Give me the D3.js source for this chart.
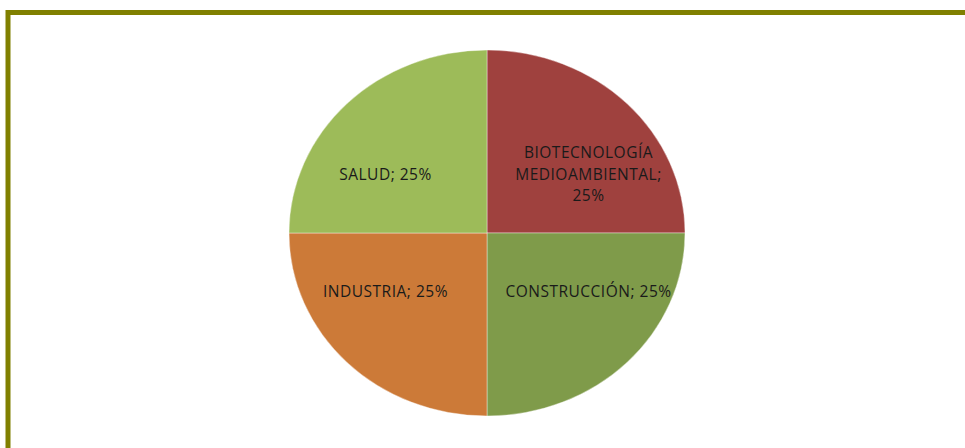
<!DOCTYPE html>
<html>
<head>
<meta charset="utf-8">
<script src="https://cdn.jsdelivr.net/npm/d3@7"></script>
<style>
  html, body { margin: 0; padding: 0; background: #fff; }
  svg { display: block; }
</style>
</head>
<body>
<svg id="chart" width="965" height="448"></svg>
<script>
const categories = ['BIOTECNOLOGÍA MEDIOAMBIENTAL', 'CONSTRUCCIÓN', 'INDUSTRIA', 'SALUD']
const values = [25, 25, 25, 25]
const colors = ['#9f413e', '#7f9b4a', '#cc7a38', '#9dbb59']
// label lines as they wrap in the original
const labelLines = [
  ['BIOTECNOLOGÍA', 'MEDIOAMBIENTAL;', '25%'],
  ['CONSTRUCCIÓN; 25%'],
  ['INDUSTRIA; 25%'],
  ['SALUD; 25%'],
]

const svg = d3.select('#chart')
const W = 965, H = 448
const cx = 487, cy = 233
const rx = 198, ry = 183

// frame (only top and left edges visible)
svg.append('path')
  .attr('d', `M8,${H} L8,12.5 L${W},12.5`)
  .attr('fill', 'none')
  .attr('stroke', '#808000')
  .attr('stroke-width', 5)

const data = categories.map((c, i) => ({ name: c, value: values[i], color: colors[i], lines: labelLines[i] }))
const pie = d3.pie().sort(null).value(d => d.value)
const arcs = pie(data)
const arc = d3.arc().innerRadius(0).outerRadius(rx)

const gPie = svg.append('g').attr('transform', `translate(${cx},${cy}) scale(1,${ry / rx})`)
gPie.selectAll('path')
  .data(arcs)
  .enter()
  .append('path')
  .attr('d', arc)
  .attr('fill', d => d.data.color)
  .attr('stroke', 'rgba(255,255,255,0.5)')
  .attr('stroke-width', 0.8)

const labelArc = d3.arc().innerRadius(0).outerRadius(rx * 1.45)
const gText = svg.append('g').attr('transform', `translate(${cx},${cy})`)
const lineH = 21.5
const texts = gText.selectAll('text')
  .data(arcs)
  .enter()
  .append('text')
  .attr('text-anchor', 'middle')
  .attr('font-family', 'Open Sans, sans-serif')
  .attr('font-size', 15.5)
  .attr('letter-spacing', 0.5)
  .attr('fill', '#1a1a1a')
  .attr('transform', d => {
    const [x, y] = labelArc.centroid(d)
    return `translate(${x},${y * 0.58})`
  })

texts.selectAll('tspan')
  .data(d => d.data.lines.map((t, i, a) => ({ t, i, n: a.length })))
  .enter()
  .append('tspan')
  .attr('x', 0)
  .attr('y', d => (d.i - (d.n - 1) / 2) * lineH)
  .attr('dy', '0.35em')
  .text(d => d.t)
</script>
</body>
</html>
